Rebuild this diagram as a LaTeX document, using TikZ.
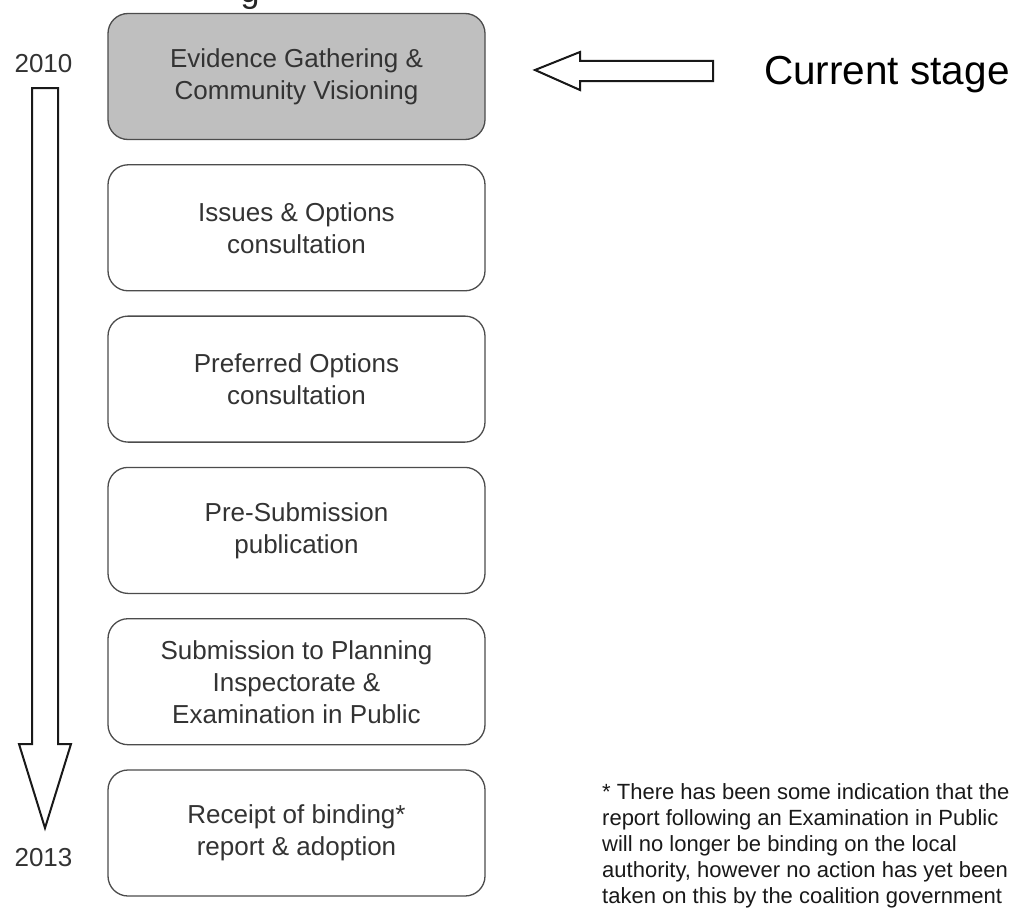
\documentclass[tikz,border=0pt]{standalone}
\usepackage{fontspec}
\setmainfont{Liberation Sans}
\tikzset{
  stagebox/.style={draw=black!70, line width=1.3pt, rounded corners=20pt,
    minimum width=377pt, minimum height=126pt, align=center,
    text=black!80, font=\fontsize{26}{32}\selectfont},
  yearlabel/.style={anchor=base, inner sep=0pt, text=black!80,
    font=\fontsize{26}{30}\selectfont},
  bigarrow/.style={draw=black!90, line width=2pt, fill=white, line join=miter}
}
\begin{document}
\begin{tikzpicture}[x=1pt,y=-1pt]
  \useasboundingbox (0,0) rectangle (1011,907);
  \clip (0,0) rectangle (1011,907);
  \fill[white] (0,0) rectangle (1011,907);
  \path
    (296.5,76.5) node[stagebox, fill=black!25] (evidence){Evidence Gathering \&\\Community Visioning}
    (296.5,227.8) node[stagebox] (issues){Issues \& Options\\consultation}
    (296.5,379.1) node[stagebox] (preferred){Preferred Options\\consultation}
    (296.5,530.4) node[stagebox] (presub){Pre-Submission\\publication}
    (296.5,681.7) node[stagebox] (submission){Submission to Planning\\Inspectorate \&\\Examination in Public}
    (296.5,833) node[stagebox] (receipt){Receipt of binding*\\report \& adoption};
  \path
    (43.5,72) node[yearlabel] (start){2010}
    (43.5,866) node[yearlabel] (finish){2013}
    (764,84) node[anchor=base west, inner sep=0pt, font=\fontsize{40.5}{46}\selectfont] (current){Current stage}
    (250,3) node[anchor=base, inner sep=0pt, text=black!85, font=\fontsize{34}{40}\selectfont] (title){g}
    (602,783) node[anchor=north west, inner sep=0pt, align=left, text=black!90,
      font=\fontsize{22}{26}\selectfont] (note){* There has been some indication that the\\report following an Examination in Public\\will no longer be binding on the local\\authority, however no action has yet been\\taken on this by the coalition government};
  \draw[bigarrow] (32,88) -- (58,88) -- (58,744) -- (71,744) -- (45,828)
    -- (19,744) -- (32,744) -- cycle;
  \draw[bigarrow] (535,70) -- (580,52) -- (580,61) -- (713,61) -- (713,81)
    -- (580,81) -- (580,90) -- cycle;
\end{tikzpicture}
\end{document}
